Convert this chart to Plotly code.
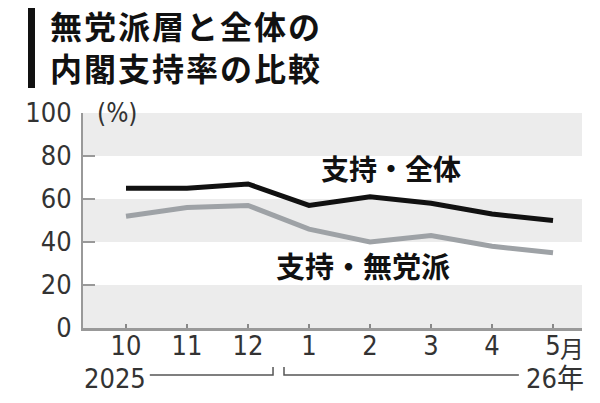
import plotly.graph_objects as go

months = ["10", "11", "12", "1", "2", "3", "4", "5"]
support_all = [65, 65, 67, 57, 61, 58, 53, 50]
support_indep = [52, 56, 57, 46, 40, 43, 38, 35]
y_ticks = [0, 20, 40, 60, 80, 100]
bands = [(80, 100), (40, 60), (0, 20)]
title_lines = ["無党派層と全体の", "内閣支持率の比較"]

W, H = 600, 403
ML, MR, MT, MB = 83, 18, 113, 75
PW, PH = W - ML - MR, H - MT - MB

def px(xp):
    return (xp - ML) / PW

def py(yp):
    return (H - MB - yp) / PH

NUM_FONT = "Liberation Sans Narrow, DejaVu Sans Condensed, sans-serif"
JP_FONT = "Noto Sans CJK JP"

x = list(range(len(months)))

fig = go.Figure()
fig.add_trace(go.Scatter(x=x, y=support_indep, mode="lines",
                         line=dict(color="#9ea2a6", width=5), hoverinfo="skip"))
fig.add_trace(go.Scatter(x=x, y=support_all, mode="lines",
                         line=dict(color="#111111", width=5), hoverinfo="skip"))

shapes = []
for lo, hi in bands:
    shapes.append(dict(type="rect", xref="paper", yref="y", x0=0, x1=1, y0=lo, y1=hi,
                       fillcolor="#ececec", line=dict(width=0), layer="below"))
# title bar
shapes.append(dict(type="rect", xref="paper", yref="paper", x0=px(28), x1=px(35),
                   y0=py(88), y1=py(8), fillcolor="#111111", line=dict(width=0)))
# year brackets
by, bt = py(375), py(367)
shapes.append(dict(type="path", xref="x", yref="paper",
                   path=f"M 0.39 {by} L 2.41 {by} L 2.41 {bt}",
                   line=dict(color="#555555", width=1.5)))
shapes.append(dict(type="path", xref="x", yref="paper",
                   path=f"M 2.59 {bt} L 2.59 {by} L 6.44 {by}",
                   line=dict(color="#555555", width=1.5)))

sp = "\u200a"
title_text = "<br>".join("<b>" + sp.join(list(t)) + "</b>" for t in title_lines)

annotations = [
    dict(text=title_text, xref="paper", yref="paper", x=px(48), y=py(46),
         xanchor="left", yanchor="middle", align="left", showarrow=False,
         font=dict(family=JP_FONT, size=32, color="#111111")),
    dict(text="<b>支持・全体</b>", xref="x", yref="y", x=4.35, y=74.4,
         showarrow=False, font=dict(family=JP_FONT, size=28, color="#111111")),
    dict(text="<b>支持・無党派</b>", xref="x", yref="y", x=3.88, y=29.3,
         showarrow=False, font=dict(family=JP_FONT, size=29, color="#111111")),
    dict(text="(%)", xref="paper", yref="y", x=px(95), y=100, xanchor="left",
         yanchor="middle", showarrow=False,
         font=dict(family=NUM_FONT, size=26, color="#333333")),
    dict(text="月", xref="x", yref="paper", x=7, y=py(347), xanchor="left",
         yanchor="middle", xshift=5, showarrow=False,
         font=dict(family=JP_FONT, size=24, color="#333333")),
    dict(text="2025", xref="x", yref="paper", x=-0.18, y=py(378), yanchor="middle",
         showarrow=False, font=dict(family=NUM_FONT, size=27, color="#333333")),
    dict(text="26年", xref="x", yref="paper", x=7.03, y=py(378), yanchor="middle",
         showarrow=False,
         font=dict(family=NUM_FONT + ", " + JP_FONT, size=27, color="#333333")),
]

fig.update_layout(
    width=W, height=H, margin=dict(l=ML, r=MR, t=MT, b=MB),
    paper_bgcolor="white", plot_bgcolor="white", showlegend=False,
    shapes=shapes, annotations=annotations,
    xaxis=dict(range=[-0.705, 7.475], tickvals=x, ticktext=months,
               ticks="inside", ticklen=4, tickcolor="#888888", tickwidth=1.5,
               showgrid=False, zeroline=False, showline=True, linecolor="#999999",
               linewidth=3, ticklabelstandoff=-8,
               tickfont=dict(family=NUM_FONT, size=27, color="#333333")),
    yaxis=dict(range=[0, 100], tickvals=y_ticks, ticks="inside", ticklen=12,
               tickcolor="#999999", tickwidth=2, showgrid=False, zeroline=False,
               showline=True, linecolor="#999999", linewidth=2,
               ticklabelstandoff=4,
               tickfont=dict(family=NUM_FONT, size=27, color="#333333")),
)

fig.write_html("out.html")
